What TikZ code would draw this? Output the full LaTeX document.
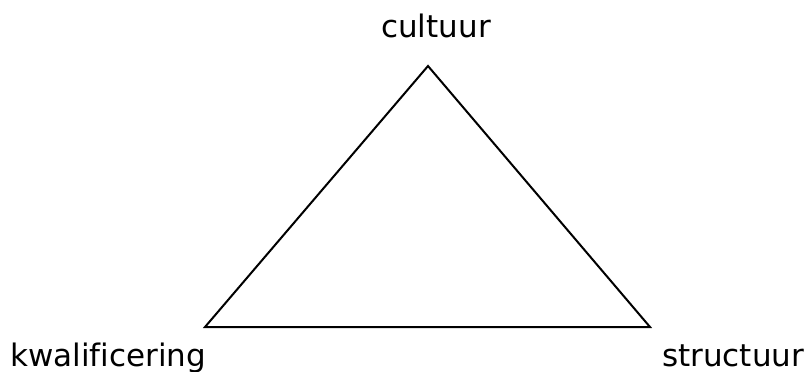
\documentclass[tikz,border=0pt]{standalone}
\usepackage{fontspec}
\setmainfont[Ligatures=NoCommon]{DejaVu Sans}
\begin{document}
\begin{tikzpicture}[x=1pt,y=-1pt,
  lbl/.style={inner sep=0pt,font=\fontsize{31}{36}\selectfont}]
\useasboundingbox (0,0) rectangle (809,372);
\coordinate (top) at (428,66);
\coordinate (bl) at (205,327);
\coordinate (br) at (650,327);
\draw[line width=2pt,line join=miter] (top) -- (br) -- (bl) -- cycle;
\node[lbl,anchor=base] (c) at (436,37) {cultuur};
\node[lbl,anchor=base west] (k) at (10,366) {kwalificering};
\node[lbl,anchor=base west] (s) at (662,366) {structuur};
\end{tikzpicture}
\end{document}
